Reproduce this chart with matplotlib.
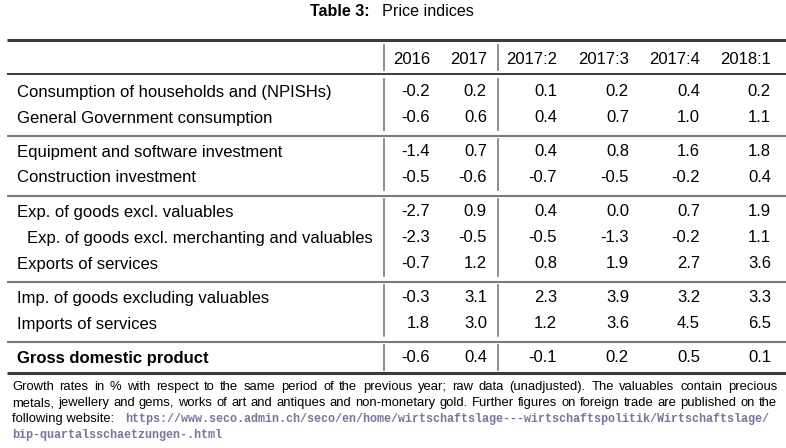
import matplotlib
matplotlib.use('Agg')
import matplotlib.pyplot as plt

# Table content
columns = ['2016', '2017', '2017:2', '2017:3', '2017:4', '2018:1']
groups = [
    ['Consumption of households and (NPISHs)', 'General Government consumption'],
    ['Equipment and software investment', 'Construction investment'],
    ['Exp. of goods excl. valuables', 'Exp. of goods excl. merchanting and valuables',
     'Exports of services'],
    ['Imp. of goods excluding valuables', 'Imports of services'],
    ['Gross domestic product'],
]
indented = ['Exp. of goods excl. merchanting and valuables']
bold_rows = ['Gross domestic product']
values = [
    [[-0.2, 0.2, 0.1, 0.2, 0.4, 0.2], [-0.6, 0.6, 0.4, 0.7, 1.0, 1.1]],
    [[-1.4, 0.7, 0.4, 0.8, 1.6, 1.8], [-0.5, -0.6, -0.7, -0.5, -0.2, 0.4]],
    [[-2.7, 0.9, 0.4, 0.0, 0.7, 1.9], [-2.3, -0.5, -0.5, -1.3, -0.2, 1.1],
     [-0.7, 1.2, 0.8, 1.9, 2.7, 3.6]],
    [[-0.3, 3.1, 2.3, 3.9, 3.2, 3.3], [1.8, 3.0, 1.2, 3.6, 4.5, 6.5]],
    [[-0.6, 0.4, -0.1, 0.2, 0.5, 0.1]],
]
note_lines = [
    'Growth rates in % with respect to the same period of the previous year; raw data (unadjusted).  The valuables contain precious',
    'metals, jewellery and gems, works of art and antiques and non-monetary gold. Further figures on foreign trade are published on the',
]
note_prefix = 'following website:'
url_lines = ['https://www.seco.admin.ch/seco/en/home/wirtschaftslage---wirtschaftspolitik/Wirtschaftslage/',
             'bip-quartalsschaetzungen-.html']

W, H = 786, 448
fig = plt.figure(figsize=(W / 100, H / 100), dpi=100)
ax = fig.add_axes([0, 0, 1, 1])
ax.set_xlim(0, W)
ax.set_ylim(H, 0)
ax.axis('off')

plt.rcParams['font.family'] = ['Liberation Sans', 'DejaVu Sans']
fs = 12
col_right = [430, 487, 557, 629, 700, 771]
vlines_x = [383.5, 497.5]
x_left, x_right = 7, 786
dark = '#3a3a3a'
grey = '#7a7a7a'

# title
ax.text(370, 12, 'Table 3:', fontsize=11.6, fontweight='bold', ha='right', va='center')
ax.text(382, 12, 'Price indices', fontsize=11.6, ha='left', va='center')

# top rule, header, header rule
ax.plot([x_left, x_right], [40, 40], color=dark, lw=2.2, solid_capstyle='butt')
for c, xr in zip(columns, col_right):
    ax.text(xr, 59, c, fontsize=fs, ha='right', va='center')
for xv in vlines_x:
    ax.plot([xv, xv], [45, 70], color=grey, lw=1.2)
ax.plot([x_left, x_right], [74, 74], color=dark, lw=1.4, solid_capstyle='butt')

# body
row_h = 26
y = 92
for gi, (labels, vals) in enumerate(zip(groups, values)):
    y_top = y - 13
    for lab, row in zip(labels, vals):
        weight = 'bold' if lab in bold_rows else 'normal'
        xl = 27 if lab in indented else 17
        ax.text(xl, y, lab, fontsize=fs, fontweight=weight, ha='left', va='center')
        for v, xr in zip(row, col_right):
            ax.text(xr, y, '%.1f' % v, fontsize=fs, ha='right', va='center')
        y += row_h
    y_bot = y - 13
    for xv in vlines_x:
        ax.plot([xv, xv], [y_top, y_bot - 1], color=grey, lw=1.2)
    if gi < len(groups) - 1:
        ax.plot([x_left, x_right], [y - 8, y - 8], color=grey, lw=1.5,
                solid_capstyle='butt')
        y += 8
ax.plot([x_left, x_right], [373, 373], color=dark, lw=2.2, solid_capstyle='butt')

# footnote, justified
fig.canvas.draw()
renderer = fig.canvas.get_renderer()
nfs = 9.4


def text_width(s, **kw):
    t = ax.text(0, 0, s, fontsize=nfs, **kw)
    w = t.get_window_extent(renderer).width
    t.remove()
    return w


def justify(line, yy, x0, x1):
    words = line.split()
    widths = [text_width(wd) for wd in words]
    gap = (x1 - x0 - sum(widths)) / (len(words) - 1)
    xx = x0
    for wd, wi in zip(words, widths):
        ax.text(xx, yy, wd, fontsize=nfs, ha='left', va='center')
        xx += wi + gap


note_y = [387, 403, 419, 435]
for line, yy in zip(note_lines, note_y):
    justify(line, yy, 12, 777)
ax.text(12, note_y[2], note_prefix, fontsize=nfs, ha='left', va='center')
url_col = '#7676a4'
ax.text(125, note_y[2], url_lines[0], fontsize=8.5, family='Liberation Mono',
        color=url_col, ha='left', va='center', fontweight='bold')
ax.text(12, note_y[3], url_lines[1], fontsize=8.5, family='Liberation Mono',
        color=url_col, ha='left', va='center', fontweight='bold')

fig.savefig('out.png', dpi=100)
